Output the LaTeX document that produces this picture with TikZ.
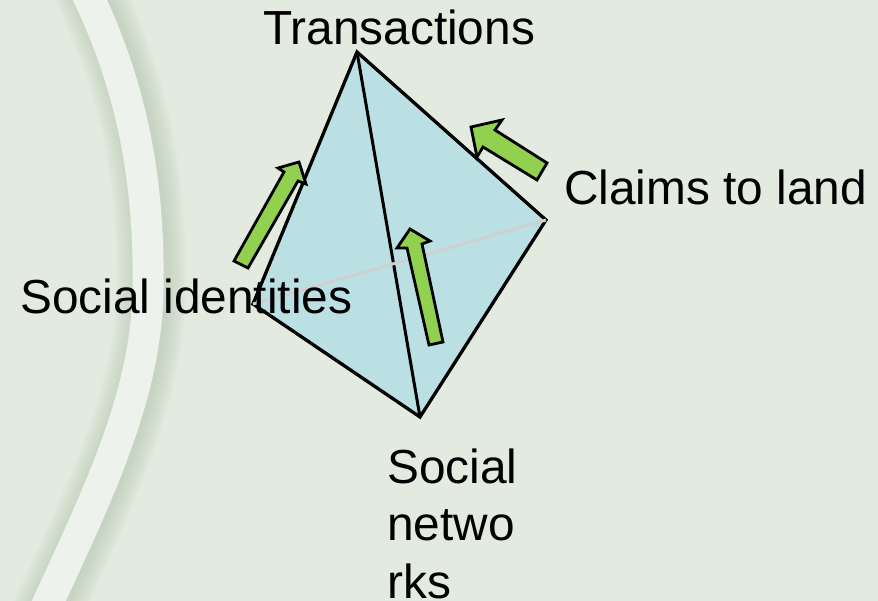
\documentclass[tikz,border=0pt]{standalone}
\usepackage{fontspec}
\setmainfont{Liberation Sans}
\usepackage{tikz}
\definecolor{pagegreen}{HTML}{E3EADF}
\definecolor{bandwhite}{HTML}{EDF3EC}
\definecolor{bandshade}{HTML}{B9CBB4}
\definecolor{faceblue}{HTML}{BAE0E3}
\definecolor{backedge}{HTML}{CFCFCF}
\definecolor{arrowgreen}{HTML}{92D050}
\tikzset{
    edgeline/.style={draw=black, line width=3.3pt, line join=miter},
    greenarrow/.style={draw=black, fill=arrowgreen, line width=2.8pt, line join=miter},
    corner/.style={font=\fontsize{47.8}{57.5}\selectfont, inner sep=0pt, anchor=base west, align=left},
    bandpath/.style={line cap=butt}
}
\newcommand{\bandcurve}{(75,-30) .. controls (128,70) and (150,170) .. (148,290) .. controls (146,400) and (95,500) .. (40,620)}
\begin{document}
\begin{tikzpicture}[x=1pt, y=-1pt]
    \useasboundingbox (0,0) rectangle (878,601);
    \fill[pagegreen] (0,0) rectangle (878,601);

    % Curved band with a soft shadow on both sides
    \begin{scope}
    \clip (0,0) rectangle (878,601);
    \foreach \wd in {70,68,...,32} {
        \draw[bandshade, opacity=0.035, line width=\wd pt, bandpath, xshift=3pt] \bandcurve;
    }
    \draw[bandwhite, line width=31pt, bandpath] \bandcurve;
    \end{scope}

    % Corners of the tetrahedron
    \coordinate (top) at (357,52);
    \coordinate (right) at (546,220);
    \coordinate (bottom) at (420,417);
    \coordinate (left) at (253,304);

    % Faces
    \fill[faceblue] (top) -- (right) -- (bottom) -- (left) -- cycle;

    % Front edges
    \draw[edgeline] (top) -- (right) -- (bottom) -- (left) -- cycle;
    \draw[edgeline, line width=3pt] (top) -- (bottom);

    % Hidden edge, lies over the black ones
    \draw[backedge, line width=3pt] (left) -- (right);

    % Green arrows
    \draw[greenarrow] (234,261) -- (284,172) -- (278,168) -- (299,162) -- (306,184) -- (298,181) -- (248,268) -- cycle;
    \draw[greenarrow] (547,163) -- (495,130) -- (502,120) -- (471,127) -- (477,157) -- (483,147) -- (537,180) -- cycle;
    \draw[greenarrow] (443,342) -- (422,244) -- (430,241) -- (410,229) -- (397,248) -- (407,248) -- (429,345) -- cycle;

    % Labels
    \node[corner] (transactions) at (263,45) {Transactions};
    \node[corner] (claims) at (564,205) {Claims to land};
    \node[corner] (identities) at (20,314) {Social identities};
    \node[corner] (networks) at (387,598) {Social\\netwo\\rks};
\end{tikzpicture}
\end{document}
